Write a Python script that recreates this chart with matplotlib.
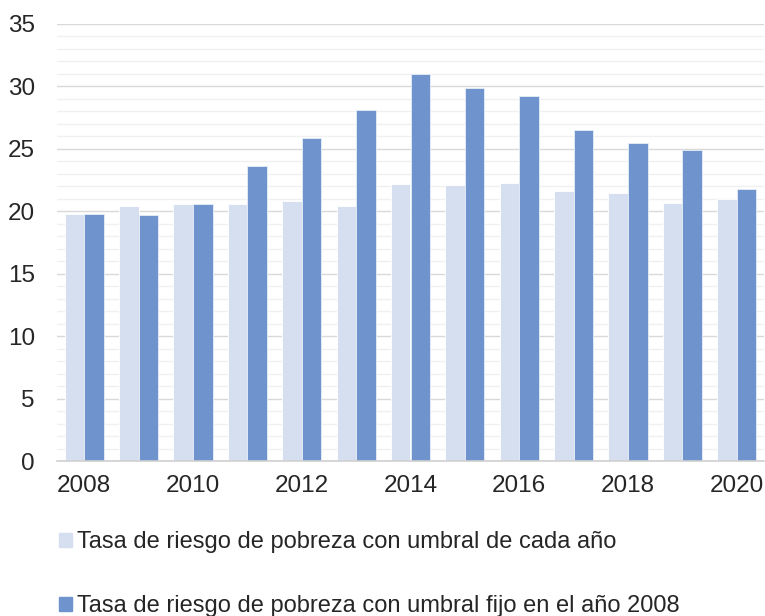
import numpy as np
import matplotlib.pyplot as plt
from matplotlib.patches import Patch

plt.rcParams['font.family'] = ['Liberation Sans', 'DejaVu Sans']

years = np.arange(2008, 2021)
tasa_cada_ano = [19.8, 20.4, 20.6, 20.6, 20.8, 20.4, 22.2, 22.1, 22.3, 21.6, 21.5, 20.7, 21.0]
tasa_fijo_2008 = [19.8, 19.7, 20.6, 23.6, 25.9, 28.1, 31.0, 29.9, 29.2, 26.5, 25.5, 24.9, 21.8]
labels = ['Tasa de riesgo de pobreza con umbral de cada año',
          'Tasa de riesgo de pobreza con umbral fijo en el año 2008']

c_light = '#D5DFEF'
c_dark = '#6F93CD'

fig = plt.figure(figsize=(7.65, 6.16), dpi=100)
ax = fig.add_axes([57/765, 1-461/616, 707/765, 437/616])

w = 0.36
ax.bar(years - w/2, tasa_cada_ano, w, color=c_light, edgecolor='white', linewidth=0.6, zorder=3)
ax.bar(years + w/2, tasa_fijo_2008, w, color=c_dark, edgecolor='#E8EEF8', linewidth=0.6, zorder=3)

ax.set_xlim(2007.5, 2020.5)
ax.set_ylim(0, 35)
ax.set_yticks(np.arange(0, 36, 5))
ax.set_yticks(np.arange(0, 36, 1), minor=True)
ax.set_xticks(years[::2])
ax.grid(axis='y', which='major', color='#D9D9D9', linewidth=1.0, zorder=0)
ax.grid(axis='y', which='minor', color='#F0F0F0', linewidth=1.0, zorder=0)
for s in ['left', 'right', 'top']:
    ax.spines[s].set_visible(False)
ax.spines['bottom'].set_color('#D0D0D0')
ax.spines['bottom'].set_linewidth(1.2)
ax.spines['bottom'].set_zorder(4)
ax.tick_params(axis='both', which='both', length=0, labelsize=17.5, colors='#262626')
ax.tick_params(axis='y', pad=16)
ax.tick_params(axis='x', pad=10)

handles = [Patch(color=c_light), Patch(color=c_dark)]
fig.legend(handles, labels, loc='upper left', bbox_to_anchor=(50/765, 1-522/616),
           frameon=False, fontsize=17, handlelength=0.55, handleheight=0.55,
           handletextpad=0.2, labelspacing=1.78, labelcolor='#262626', borderaxespad=0)

fig.savefig('out.png', dpi=100)
